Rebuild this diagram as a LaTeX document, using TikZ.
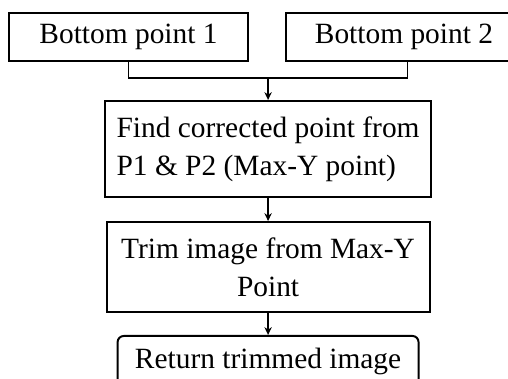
\documentclass[tikz,border=0pt]{standalone}
\usepackage{fontspec}
\setmainfont{Liberation Serif}
\usetikzlibrary{arrows.meta, positioning, calc}

\begin{document}
\begin{tikzpicture}[
        % --- TikZ Styles ---
        basebox/.style={
            draw, line width=0.8pt, minimum height=19.6pt,
            align=center, font=\fontsize{12}{15.5}\selectfont, inner sep=2pt
        },
        pointbox/.style={basebox, minimum width=97.5pt},
        stepbox/.style={basebox, minimum width=133pt},
        endbox/.style={basebox, rounded corners=2.5pt, minimum width=122.8pt, minimum height=21pt},
        bus/.style={line width=0.6pt},
        arrow/.style={line width=0.5pt, -{Stealth[length=3.2pt, width=3pt]}}
    ]

    % fixed frame, the right and bottom boxes run past it
    \useasboundingbox (-52.45pt,15.1pt) rectangle (154.85pt,-139.5pt);

    % --- 1. INPUT POINTS ---
    \node[pointbox] (bottom1) at (0,0) {Bottom point 1};
    \node[pointbox, minimum width=96.3pt, right=14.7pt of bottom1] (bottom2) {Bottom point 2};

    % bus below the two points
    \coordinate (busL) at ($(bottom1.south)+(0,-6.5pt)$);
    \coordinate (busR) at ($(bottom2.south |- busL)+(1.5pt,0)$);
    \coordinate (bus) at ($(busL)!0.5!(busR)$);

    % --- 2. STEPS ---
    \node[stepbox, minimum height=39.2pt, align=left, below=9pt of bus] (corrected) {
        Find corrected point from\\
        P1 \& P2 (Max-Y point)
    };

    \node[stepbox, minimum width=131.8pt, minimum height=36.7pt, below=9.4pt of corrected] (trim) {
        Trim image from Max-Y\\
        Point
    };

    \node[endbox, below=9pt of trim] (result) {Return trimmed image};

    % --- CONNECTIONS ---
    \draw[bus] (bottom1.south) |- (busR) -- (busR |- bottom2.south);
    \draw[arrow] (bus) -- (corrected.north);
    \draw[arrow] (corrected.south) -- (trim.north);
    \draw[arrow] (trim.south) -- (result.north);

\end{tikzpicture}
\end{document}
